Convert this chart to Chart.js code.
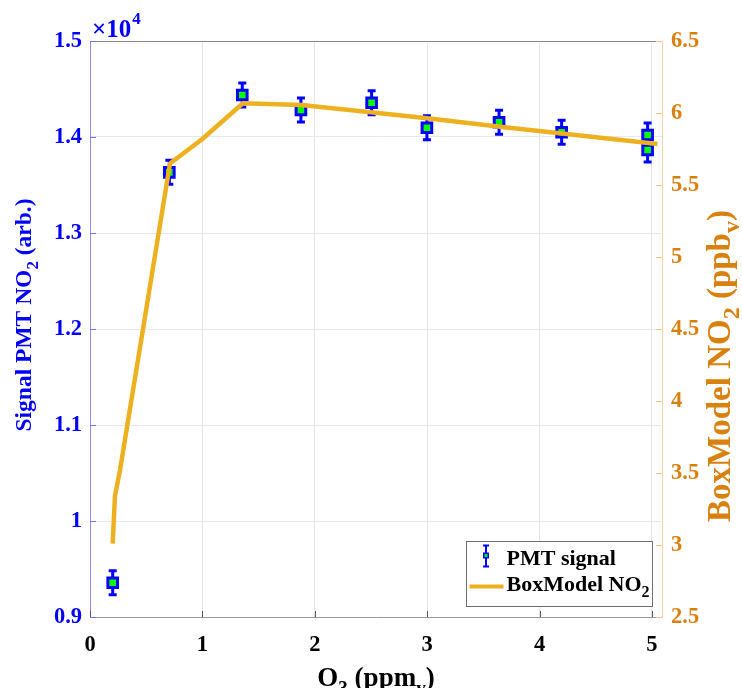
<!DOCTYPE html>
<html>
<head>
<meta charset="utf-8">
<title>PMT signal vs BoxModel NO2</title>
<script src="https://cdn.jsdelivr.net/npm/chart.js@4.4.1/dist/chart.umd.min.js"></script>
<style>
  html, body { margin: 0; padding: 0; background: #fff; }
  #contenedor { width: 742px; height: 688px; }
</style>
</head>
<body>
<div id="contenedor"><canvas id="grafica" width="742" height="688"></canvas></div>
<script>
// ============================================================
// DATOS
// ============================================================
const o3Medido = [0.202, 0.706, 1.355, 1.877, 2.506, 2.998, 3.64, 4.197, 4.962, 4.962];
const senalPMT = [9357, 13632, 14437, 14281, 14357, 14097, 14153, 14049, 14021, 13865];
const errorPMT = [125, 125, 125, 125, 125, 125, 125, 125, 125, 125];

const o3Modelo = [0.202, 0.222, 0.267, 0.712, 1.0, 1.36, 1.88, 2.5, 3.0, 3.65, 4.2, 5.05];
const no2Modelo = [3.01, 3.34, 3.52, 5.65, 5.82, 6.067, 6.056, 6.005, 5.963, 5.905, 5.858, 5.785];

const xTicks = [0, 1, 2, 3, 4, 5];
const xEtiquetas = ['0', '1', '2', '3', '4', '5'];
const yIzqTicks = [9000, 10000, 11000, 12000, 13000, 14000, 15000];
const yIzqEtiquetas = ['0.9', '1', '1.1', '1.2', '1.3', '1.4', '1.5'];
const yDerTicks = [2.5, 3, 3.5, 4, 4.5, 5, 5.5, 6, 6.5];
const yDerEtiquetas = ['2.5', '3', '3.5', '4', '4.5', '5', '5.5', '6', '6.5'];

const AZUL = '#0000FF';
const VERDE = '#00FF00';
const NARANJA_LINEA = '#EDB120';
const NARANJA_TEXTO = '#D9810F';
const FUENTE = '"Liberation Serif", "Times New Roman", serif';

// texto con subíndices: partes = [[texto, esSub], ...]
function anchoRico(ctx, partes, tam) {
  let w = 0;
  partes.forEach(([t, sub]) => {
    ctx.font = `bold ${sub ? Math.round(tam * 0.72) : tam}px ${FUENTE}`;
    w += ctx.measureText(t).width;
  });
  return w;
}

function dibujarRico(ctx, partes, x, y, tam, color) {
  ctx.fillStyle = color;
  ctx.textBaseline = 'alphabetic';
  ctx.textAlign = 'left';
  let cx = x;
  partes.forEach(([t, sub]) => {
    ctx.font = `bold ${sub ? Math.round(tam * 0.72) : tam}px ${FUENTE}`;
    ctx.fillText(t, cx, sub ? y + tam * 0.28 : y);
    cx += ctx.measureText(t).width;
  });
}

function centradoRico(ctx, partes, cx, y, tam, color, rot) {
  ctx.save();
  ctx.translate(cx, y);
  if (rot) ctx.rotate(rot);
  const w = anchoRico(ctx, partes, tam);
  dibujarRico(ctx, partes, -w / 2, 0, tam, color);
  ctx.restore();
}

// ============================================================
// PLUGIN: barras de error, ticks interiores, títulos y leyenda
// ============================================================
const extrasMatlab = {
  id: 'extrasMatlab',
  beforeDatasetsDraw(chart) {
    const { ctx, scales } = chart;
    ctx.save();
    ctx.strokeStyle = AZUL;
    ctx.lineWidth = 3;
    o3Medido.forEach((x, i) => {
      const px = scales.x.getPixelForValue(x);
      const arriba = scales.y.getPixelForValue(senalPMT[i] + errorPMT[i]);
      const abajo = scales.y.getPixelForValue(senalPMT[i] - errorPMT[i]);
      ctx.beginPath();
      ctx.moveTo(px, arriba);
      ctx.lineTo(px, abajo);
      ctx.moveTo(px - 4, arriba);
      ctx.lineTo(px + 4, arriba);
      ctx.moveTo(px - 4, abajo);
      ctx.lineTo(px + 4, abajo);
      ctx.stroke();
    });
    ctx.restore();
  },
  afterDraw(chart) {
    const { ctx, chartArea: ca, scales } = chart;
    ctx.save();

    // borde superior
    ctx.strokeStyle = '#8a8a8a';
    ctx.lineWidth = 1;
    ctx.beginPath();
    ctx.moveTo(ca.left, ca.top + 0.5);
    ctx.lineTo(ca.right, ca.top + 0.5);
    ctx.stroke();

    // ticks hacia adentro
    ctx.strokeStyle = '#555';
    xTicks.forEach(v => {
      const px = Math.round(scales.x.getPixelForValue(v)) + 0.5;
      ctx.beginPath();
      ctx.moveTo(px, ca.bottom);
      ctx.lineTo(px, ca.bottom - 6);
      ctx.stroke();
    });
    ctx.strokeStyle = '#7070FF';
    yIzqTicks.forEach(v => {
      const py = Math.round(scales.y.getPixelForValue(v)) + 0.5;
      ctx.beginPath();
      ctx.moveTo(ca.left, py);
      ctx.lineTo(ca.left + 6, py);
      ctx.stroke();
    });
    ctx.strokeStyle = '#F0C58A';
    yDerTicks.forEach(v => {
      const py = Math.round(scales.y1.getPixelForValue(v)) + 0.5;
      ctx.beginPath();
      ctx.moveTo(ca.right, py);
      ctx.lineTo(ca.right - 6, py);
      ctx.stroke();
    });

    // títulos de ejes
    const midX = (ca.left + ca.right) / 2;
    const midY = (ca.top + ca.bottom) / 2;
    centradoRico(ctx, [['O', false], ['3', true], [' (ppm', false], ['v', true], [')', false]],
      midX, ca.bottom + 69, 27, '#000', 0);
    centradoRico(ctx, [['Signal PMT NO', false], ['2', true], [' (arb.)', false]],
      31, midY - 14, 23.5, AZUL, -Math.PI / 2);
    centradoRico(ctx, [['BoxModel NO', false], ['2', true], [' (ppb', false], ['v', true], [')', false]],
      730, midY + 37, 33, NARANJA_TEXTO, -Math.PI / 2);

    // exponente del eje izquierdo
    ctx.fillStyle = AZUL;
    ctx.textAlign = 'left';
    ctx.textBaseline = 'alphabetic';
    ctx.font = `bold 25px ${FUENTE}`;
    ctx.fillText('\u00D710', ca.left + 2, ca.top - 4);
    const wExp = ctx.measureText('\u00D710').width;
    ctx.font = `bold 17px ${FUENTE}`;
    ctx.fillText('4', ca.left + 2 + wExp + 1, ca.top - 17);

    // leyenda
    const lx = ca.right - 195.5, ly = ca.bottom - 75.5, lw = 186, lh = 65;
    ctx.fillStyle = '#fff';
    ctx.fillRect(lx, ly, lw, lh);
    ctx.strokeStyle = '#6e6e6e';
    ctx.lineWidth = 1;
    ctx.strokeRect(lx, ly, lw, lh);

    const ex = lx + 19.5, ey = ly + 14;
    ctx.strokeStyle = AZUL;
    ctx.lineWidth = 2;
    ctx.beginPath();
    ctx.moveTo(ex, ey - 10); ctx.lineTo(ex, ey + 11);
    ctx.moveTo(ex - 3, ey - 10); ctx.lineTo(ex + 3, ey - 10);
    ctx.moveTo(ex - 3, ey + 11); ctx.lineTo(ex + 3, ey + 11);
    ctx.stroke();
    ctx.fillStyle = AZUL;
    ctx.fillRect(ex - 3, ey - 3, 6, 6);
    ctx.fillStyle = VERDE;
    ctx.fillRect(ex - 1.5, ey - 1.5, 3, 3);

    ctx.strokeStyle = NARANJA_LINEA;
    ctx.lineWidth = 4;
    ctx.beginPath();
    ctx.moveTo(lx + 3, ly + 45);
    ctx.lineTo(lx + 37, ly + 45);
    ctx.stroke();

    dibujarRico(ctx, [[chart.data.datasets[0].label, false]], lx + 40, ly + 23, 22, '#000');
    dibujarRico(ctx, [['BoxModel NO', false], ['2', true]], lx + 40, ly + 49, 22, '#000');

    ctx.restore();
  }
};

// ============================================================
// GRÁFICA
// ============================================================
const fuenteTicks = { family: FUENTE, size: 22.5, weight: 'bold' };

new Chart(document.getElementById('grafica'), {
  type: 'scatter',
  data: {
    datasets: [
      {
        label: 'PMT signal',
        data: o3Medido.map((x, i) => ({ x, y: senalPMT[i] })),
        yAxisID: 'y',
        pointStyle: 'rect',
        pointRadius: 6.8,
        pointBorderWidth: 3,
        pointBackgroundColor: VERDE,
        pointBorderColor: AZUL,
        order: 2,
      },
      {
        label: 'BoxModel NO2',
        data: o3Modelo.map((x, i) => ({ x, y: no2Modelo[i] })),
        yAxisID: 'y1',
        showLine: true,
        borderColor: NARANJA_LINEA,
        borderWidth: 4.5,
        pointRadius: 0,
        tension: 0,
        order: 1,
      },
    ],
  },
  options: {
    responsive: false,
    animation: false,
    devicePixelRatio: 1,
    layout: { padding: { top: 41, left: 0, right: 0, bottom: 0 } },
    plugins: { legend: { display: false }, tooltip: { enabled: false } },
    scales: {
      x: {
        type: 'linear',
        min: 0,
        max: 5.09,
        afterBuildTicks: s => { s.ticks = xTicks.map(v => ({ value: v })); },
        afterFit: s => { s.height = 71; },
        ticks: {
          color: '#000',
          font: fuenteTicks,
          padding: 15,
          maxRotation: 0,
          callback: (v, i) => xEtiquetas[i],
        },
        grid: { color: '#e4e4e4', drawTicks: false },
        border: { color: '#9a9a9a', width: 1 },
      },
      y: {
        position: 'left',
        min: 9000,
        max: 15000,
        afterBuildTicks: s => { s.ticks = yIzqTicks.map(v => ({ value: v })); },
        afterFit: s => { s.width = 90; },
        ticks: {
          color: AZUL,
          font: fuenteTicks,
          padding: 8,
          callback: (v, i) => yIzqEtiquetas[i],
        },
        grid: { color: '#e6e6f7', drawTicks: false },
        border: { color: '#8c8cff', width: 1 },
      },
      y1: {
        position: 'right',
        min: 2.5,
        max: 6.5,
        afterBuildTicks: s => { s.ticks = yDerTicks.map(v => ({ value: v })); },
        afterFit: s => { s.width = 80; },
        ticks: {
          color: NARANJA_TEXTO,
          font: fuenteTicks,
          padding: 9,
          callback: (v, i) => yDerEtiquetas[i],
        },
        grid: { drawOnChartArea: false, drawTicks: false },
        border: { color: '#f3d2a3', width: 1 },
      },
    },
  },
  plugins: [extrasMatlab],
});
</script>
</body>
</html>
